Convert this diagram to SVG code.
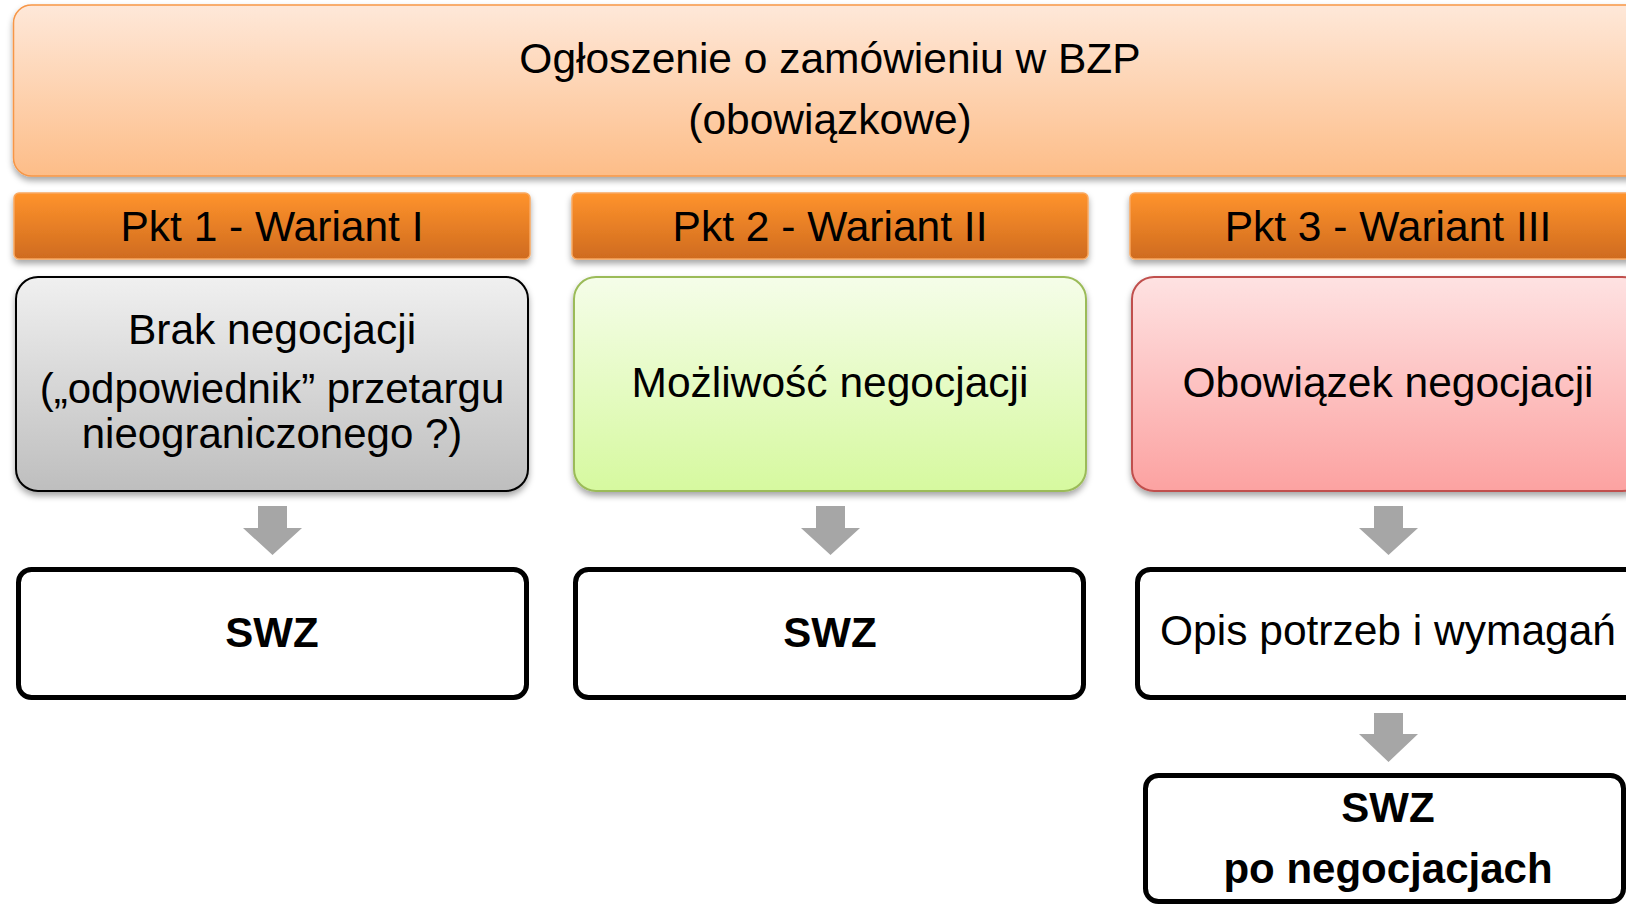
<svg xmlns="http://www.w3.org/2000/svg" width="1626" height="904" viewBox="0 0 1626 904">
<defs>
<linearGradient id="gTop" x1="0" y1="0" x2="0" y2="1"><stop offset="0" stop-color="#fee8d9"/><stop offset="1" stop-color="#fdbd88"/></linearGradient>
<linearGradient id="gHead" x1="0" y1="0" x2="0" y2="1"><stop offset="0" stop-color="#ff932c"/><stop offset="1" stop-color="#cf6b1f"/></linearGradient>
<linearGradient id="gGrey" x1="0" y1="0" x2="0" y2="1"><stop offset="0" stop-color="#f0f0f0"/><stop offset="1" stop-color="#bebebe"/></linearGradient>
<linearGradient id="gGreen" x1="0" y1="0" x2="0" y2="1"><stop offset="0" stop-color="#f5fde9"/><stop offset="1" stop-color="#d6f99f"/></linearGradient>
<linearGradient id="gRed" x1="0" y1="0" x2="0" y2="1"><stop offset="0" stop-color="#fee2e2"/><stop offset="1" stop-color="#fca2a1"/></linearGradient>
<filter id="sh" x="-5%" y="-10%" width="110%" height="130%"><feDropShadow dx="0" dy="4" stdDeviation="3" flood-color="#000" flood-opacity="0.35"/></filter>
</defs>
<style>
text{font-family:"Liberation Sans",Arial,sans-serif;font-size:42.5px;fill:#000;text-anchor:middle}
.b{font-weight:bold;font-size:42px}
.s{font-size:42px}
.top{fill:url(#gTop);stroke:#f79646;stroke-width:1.5;filter:url(#sh)}
.head{fill:url(#gHead);stroke:#f9a860;stroke-width:1.5;filter:url(#sh)}
.grey{fill:url(#gGrey);stroke:#000;stroke-width:2;filter:url(#sh)}
.green{fill:url(#gGreen);stroke:#9bbb59;stroke-width:2;filter:url(#sh)}
.red{fill:url(#gRed);stroke:#c0504d;stroke-width:2;filter:url(#sh)}
.out{fill:#fff;stroke:#000;stroke-width:5}
.arr{fill:#a6a6a6}
</style>
<g id="top">
<rect class="top" x="13.5" y="5" width="1640" height="171" rx="18"/>
<text x="830" y="73">Ogłoszenie o zamówieniu w BZP</text>
<text x="830" y="134">(obowiązkowe)</text>
</g>
<g id="pkt1"><rect class="head" x="14" y="193" width="516" height="66" rx="5"/><text x="272" y="241">Pkt 1 - Wariant I</text></g>
<g id="pkt2"><rect class="head" x="572" y="193" width="516" height="66" rx="5"/><text x="830" y="241">Pkt 2 - Wariant II</text></g>
<g id="pkt3"><rect class="head" x="1130" y="193" width="516" height="66" rx="5"/><text x="1388" y="241">Pkt 3 - Wariant III</text></g>
<g id="brak">
<rect class="grey" x="16" y="277" width="512" height="214" rx="22"/>
<text x="272" y="344">Brak negocjacji</text>
<text class="s" x="272" y="403">(„odpowiednik” przetargu</text>
<text class="s" x="272" y="448">nieograniczonego ?)</text>
</g>
<g id="mozliwosc">
<rect class="green" x="574" y="277" width="512" height="214" rx="22"/>
<text x="830" y="397">Możliwość negocjacji</text>
</g>
<g id="obowiazek">
<rect class="red" x="1132" y="277" width="512" height="214" rx="22"/>
<text x="1388" y="397">Obowiązek negocjacji</text>
</g>
<g id="swz1"><rect class="out" x="18.5" y="569.5" width="508" height="128" rx="13"/><text class="b" x="272" y="647">SWZ</text></g>
<g id="swz2"><rect class="out" x="575.5" y="569.5" width="508" height="128" rx="13"/><text class="b" x="830" y="647">SWZ</text></g>
<g id="opis"><rect class="out" x="1137.5" y="569.5" width="508" height="128" rx="13"/><text x="1388" y="645">Opis potrzeb i wymagań</text></g>
<g id="swz3"><rect class="out" x="1145.5" y="775.5" width="478" height="126" rx="13"/><text class="b" x="1388" y="822">SWZ</text><text class="b" x="1388" y="883">po negocjacjach</text></g>
<g id="connectors">
<path class="arr" d="M258,506 H287 V528 H302 L272.5,555 L243,528 H258 Z"/>
<path class="arr" d="M816,506 H845 V528 H860 L830.5,555 L801,528 H816 Z"/>
<path class="arr" d="M1374,506 H1403 V528 H1418 L1388.5,555 L1359,528 H1374 Z"/>
<path class="arr" d="M1374,713 H1403 V734 H1418 L1388.5,762 L1359,734 H1374 Z"/>
</g>
</svg>
